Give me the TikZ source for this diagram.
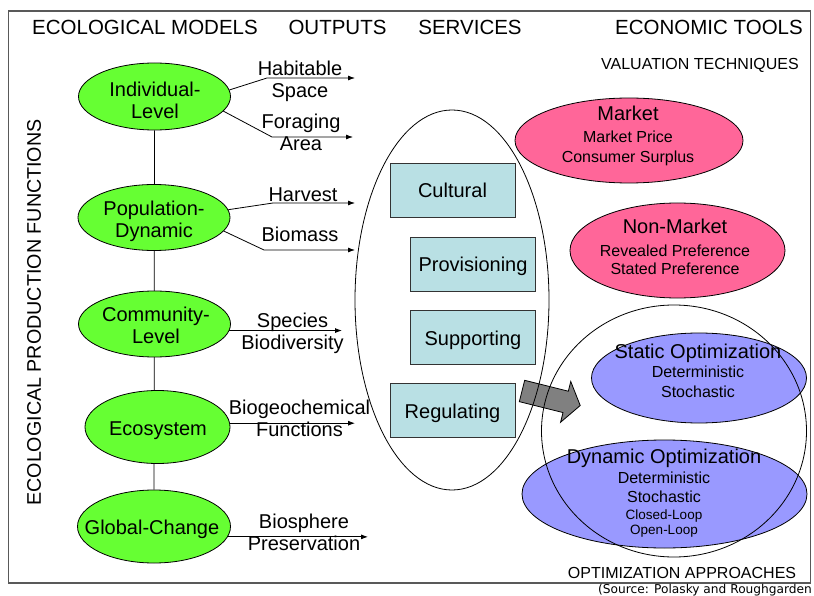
\documentclass[tikz,border=0pt]{standalone}
\usepackage{fontspec}
\setmainfont{Liberation Sans}
\newfontfamily\srcfont{DejaVu Sans}
\usetikzlibrary{arrows.meta}
\usetikzlibrary{shapes.geometric}

\definecolor{ecogreen}{RGB}{102,255,51}
\definecolor{valpink}{RGB}{255,102,153}
\definecolor{optblue}{RGB}{153,153,255}
\definecolor{svccyan}{RGB}{185,224,228}
\newcommand\ellhead{\fontsize{20}{22}\selectfont}

\tikzset{
    eco/.style 2 args={ellipse, draw, fill=ecogreen, line width=0.8pt, inner sep=0pt, minimum width=#1, minimum height=#2},
    val/.style 2 args={ellipse, draw, fill=valpink, line width=0.8pt, inner sep=0pt, minimum width=#1, minimum height=#2},
    opt/.style 2 args={ellipse, draw, fill=optblue, line width=0.8pt, inner sep=0pt, minimum width=#1, minimum height=#2},
    ring/.style 2 args={ellipse, draw, line width=0.8pt, inner sep=0pt, minimum width=#1, minimum height=#2},
    svc/.style={draw=black!80, fill=svccyan, line width=0.8pt, minimum width=125pt, minimum height=54pt, text height=16pt, text depth=0pt, font=\fontsize{20}{22}\selectfont},
    lbl/.style={align=center, inner sep=0pt, font=\fontsize{20}{22}\selectfont},
    sub/.style={align=center, inner sep=0pt, font=\fontsize{16}{19.5}\selectfont},
    hdr/.style={anchor=base, inner sep=0pt, font=\fontsize{20.5}{24}\selectfont},
    outarr/.style={-{Latex[length=7pt,width=5pt]}, line width=0.8pt},
}

\begin{document}
\begin{tikzpicture}[x=1pt, y=-1pt]
    \useasboundingbox (0,0) rectangle (814,596);
    \draw[gray!70!black, line width=1.3pt] (8.5,11) rectangle (810.5,583);

    % column headers
    \node[hdr] (h-models) at (145,35) {ECOLOGICAL MODELS};
    \node[hdr] (h-outputs) at (337.5,35) {OUTPUTS};
    \node[hdr] (h-services) at (470,35) {SERVICES};
    \node[hdr] (h-tools) at (709,35) {ECONOMIC TOOLS};
    \node[hdr, font=\fontsize{16}{19}\selectfont] (h-val) at (700,69.5) {VALUATION TECHNIQUES};
    \node[hdr, font=\fontsize{16}{19}\selectfont] (h-optim) at (682,578) {OPTIMIZATION APPROACHES};
    \node[rotate=90, inner sep=0pt, font=\fontsize{19.7}{22}\selectfont] (h-epf) at (34.2,312.5) {ECOLOGICAL PRODUCTION FUNCTIONS};
    \node[anchor=base west, inner sep=0pt, font=\srcfont\fontsize{12.2}{14}\selectfont] (src) at (598,593.5) {(Source: Polasky and Roughgarden};

    % ecological models
    \node[eco={152pt}{67pt}] (ind) at (154.5,96.5) {};
    \node[eco={153pt}{73pt}] (glob) at (154,526.5) {};
    \draw[line width=0.8pt] (ind) -- (glob);
    \node[eco={152pt}{66pt}] (pop) at (154,217.5) {};
    \node[eco={152pt}{66pt}] (comm) at (154.5,324) {};
    \node[eco={145pt}{73pt}] (eco) at (157.5,427) {};

    \node[lbl] (ind-t) at (155,100.4) {Individual-\\Level};
    \node[lbl] (pop-t) at (154,221.3) {Population-\\Dynamic};
    \node[lbl] (comm-t) at (156,325.4) {Community-\\Level};
    \node[lbl] (eco-t) at (158,431) {Ecosystem};
    \node[lbl] (glob-t) at (152,529) {Global-Change};

    % outputs
    \coordinate (hab-e) at (355,78);
    \coordinate (for-e) at (353,137);
    \coordinate (harv-e) at (355,203);
    \coordinate (biom-e) at (355,250);
    \coordinate (spec-e) at (342,330);
    \coordinate (biog-e) at (355,423);
    \coordinate (bios-e) at (368,537);
    \draw[outarr] (ind.5) -- ([xshift=-88pt]hab-e) -- (hab-e);
    \draw[outarr] (ind.-12) -- ([xshift=-81pt]for-e) -- (for-e);
    \draw[outarr] (pop.6) -- ([xshift=-82pt]harv-e) -- (harv-e);
    \draw[outarr] (pop.-11) -- ([xshift=-91pt]biom-e) -- (biom-e);
    \draw[outarr] (comm.-5) -- (comm.-5 -| spec-e);
    \draw[outarr] (eco.3) -- (eco.3 -| biog-e);
    \draw[outarr] (glob.-8) -- (glob.-8 -| bios-e);

    \node[lbl] (hab) at (300,81) {Habitable\\Space};
    \node[lbl] (for) at (301,132.5) {Foraging\\Area};
    \node[lbl] (harv) at (303,194.5) {Harvest};
    \node[lbl] (biom) at (300,234.5) {Biomass};
    \node[lbl] (spec) at (292.5,333) {Species\\Biodiversity};
    \node[lbl] (biog) at (299.5,418.5) {Biogeochemical\\Functions};
    \node[lbl] (bios) at (304,532.5) {Biosphere\\Preservation};

    % services
    \node[svc] (cult) at (452.5,190) {Cultural};
    \node[svc] (prov) at (473,264) {Provisioning};
    \node[svc] (supp) at (473,337) {Supporting};
    \node[svc] (reg) at (452.5,410) {Regulating};

    % economic tools
    \node[val={228pt}{85pt}] (mkt) at (629,140.5) {};
    \node[val={215pt}{95pt}] (nonmkt) at (677.5,250.5) {};
    \node[opt={215pt}{90pt}] (stat) at (699,378) {};
    \node[opt={285pt}{108pt}] (dyn) at (664.5,494) {};

    \begin{scope}[shift={(522,391)}, rotate=-14]
        \draw[fill=gray, line width=0.8pt] (0,-11) -- (45,-11) -- (45,-21) -- (60,0) -- (45,21) -- (45,11) -- (0,11) -- cycle;
    \end{scope}

    \node[ring={194pt}{380pt}] (svc) at (452,300) {};
    \node[ring={265pt}{252pt}] (optim) at (674,431) {};

    \node[sub] (mkt-t) at (628,136) {{\ellhead Market}\\[2.5pt]Market Price\\Consumer Surplus};
    \node[sub, font=\fontsize{16}{18}\selectfont] (nonmkt-t) at (675,247) {{\ellhead Non-Market}\\[5pt]Revealed Preference\\Stated Preference};
    \node[sub] (stat-t) at (698,370.4) {{\ellhead Static Optimization}\\Deterministic\\Stochastic};
    \node[sub, font=\fontsize{16}{19}\selectfont] (dyn-t) at (664,492.8) {{\ellhead Dynamic Optimization}\\[1pt]Deterministic\\Stochastic\\[-2pt]{\fontsize{13.5}{15}\selectfont Closed-Loop}\\[-4pt]{\fontsize{13.5}{15}\selectfont Open-Loop}};
\end{tikzpicture}
\end{document}
